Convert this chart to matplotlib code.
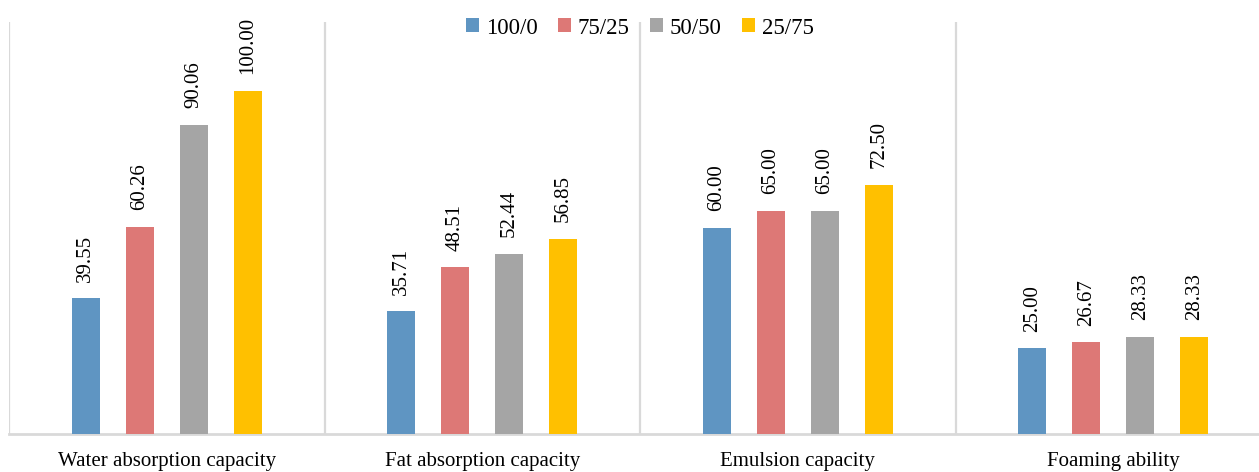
import numpy as np
import matplotlib
matplotlib.use('Agg')
import matplotlib.pyplot as plt

plt.rcParams['font.family'] = ['Liberation Serif', 'DejaVu Serif']

categories = ['Water absorption capacity', 'Fat absorption capacity',
              'Emulsion capacity', 'Foaming ability']
series_names = ['100/0', '75/25', '50/50', '25/75']
s_100_0 = [39.55, 35.71, 60.00, 25.00]
s_75_25 = [60.26, 48.51, 65.00, 26.67]
s_50_50 = [90.06, 52.44, 65.00, 28.33]
s_25_75 = [100.00, 56.85, 72.50, 28.33]
colors = ['#5f95c2', '#dd7876', '#a5a5a5', '#ffc000']

W, H = 1259, 472
fig = plt.figure(figsize=(W / 100, H / 100), dpi=100)
# axes spans a bit past the right edge, like the original
ax = fig.add_axes([9 / W, 38 / H, 1262 / W, 412 / H])

x = np.arange(len(categories))
bar_w = 0.089
step = 0.171
offsets = (np.arange(4) - 1.5) * step

for i, (name, vals) in enumerate(zip(series_names, [s_100_0, s_75_25, s_50_50, s_25_75])):
    bars = ax.bar(x + offsets[i], vals, width=bar_w, color=colors[i], label=name, zorder=3)
    for b, v in zip(bars, vals):
        ax.annotate('%.2f' % v, (b.get_x() + b.get_width() / 2, v),
                    xytext=(0, 12), textcoords='offset points',
                    rotation=90, ha='center', va='bottom', fontsize=15)

# group separators
for sx in [-0.5, 0.5, 1.5, 2.5]:
    ax.axvline(sx, color='#d9d9d9', lw=1.6, zorder=1)

ax.set_xlim(-0.5, 3.5)
ax.set_ylim(0, 120)
ax.set_yticks([])
ax.set_xticks(x)
ax.set_xticklabels(categories, fontsize=15)
ax.tick_params(axis='x', length=0, pad=13)
for s in ['top', 'right', 'left']:
    ax.spines[s].set_visible(False)
ax.spines['bottom'].set_color('#d9d9d9')
ax.spines['bottom'].set_linewidth(2)

fig.legend(loc='center', bbox_to_anchor=(640 / W, 1 - 28 / H), ncol=4, frameon=False,
           fontsize=16.5, handlelength=0.55, handleheight=0.55, handletextpad=0.3,
           columnspacing=0.9, borderpad=0)

fig.savefig('out.png', dpi=100)
